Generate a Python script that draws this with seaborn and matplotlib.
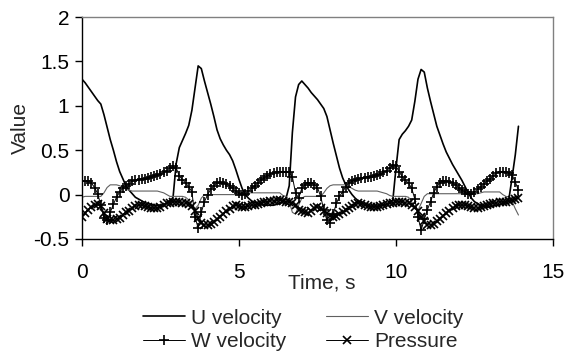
import numpy as np
import pandas as pd
import matplotlib
matplotlib.use("Agg")
import matplotlib.pyplot as plt
from matplotlib.ticker import FuncFormatter
import seaborn as sns

# Samples every 0.1 s
sample_step = 0.1

u_velocity = [
    1.30, 1.26, 1.21, 1.16, 1.11, 1.06, 1.02, 0.90, 0.76, 0.62,
    0.50, 0.37, 0.26, 0.18, 0.10, 0.05, 0.01, -0.03, -0.05, -0.07,
    -0.09, -0.10, -0.11, -0.12, -0.12, -0.12, -0.11, -0.10, -0.08, -0.03,
    0.35, 0.53, 0.61, 0.69, 0.78, 0.95, 1.20, 1.45, 1.42, 1.28,
    1.15, 1.02, 0.88, 0.73, 0.63, 0.56, 0.50, 0.45, 0.38, 0.28,
    0.17, 0.07, 0.00, -0.04, -0.07, -0.09, -0.10, -0.11, -0.12, -0.12,
    -0.12, -0.12, -0.11, -0.10, -0.08, -0.04, 0.10, 0.70, 1.10, 1.24,
    1.28, 1.24, 1.20, 1.15, 1.11, 1.07, 1.02, 0.97, 0.88, 0.73,
    0.58, 0.44, 0.30, 0.19, 0.11, 0.05, 0.00, -0.04, -0.07, -0.09,
    -0.11, -0.12, -0.13, -0.13, -0.13, -0.12, -0.12, -0.11, -0.09, -0.06,
    0.30, 0.62, 0.68, 0.72, 0.77, 0.84, 1.05, 1.30, 1.41, 1.38,
    1.20, 1.05, 0.91, 0.77, 0.67, 0.57, 0.48, 0.41, 0.34, 0.28,
    0.22, 0.16, 0.09, 0.02, -0.04, -0.08, -0.10, -0.12, -0.13, -0.14,
    -0.14, -0.13, -0.12, -0.11, -0.10, -0.08, -0.04, 0.20, 0.45, 0.77,
]

v_velocity = [
    -0.03, -0.02, -0.02, -0.02, -0.02, -0.02, -0.02, 0.02, 0.08, 0.11,
    0.11, 0.11, 0.10, 0.08, 0.06, 0.05, 0.04, 0.04, 0.04, 0.04,
    0.04, 0.04, 0.04, 0.04, 0.04, 0.03, 0.02, 0.00, -0.02, -0.02,
    -0.02, -0.02, -0.02, -0.03, -0.06, -0.12, -0.16, -0.12, -0.04, 0.00,
    0.00, 0.00, 0.00, 0.00, 0.00, 0.00, 0.00, 0.00, 0.00, 0.00,
    0.00, 0.00, 0.01, 0.02, 0.02, 0.02, 0.02, 0.02, 0.02, 0.02,
    0.02, 0.02, 0.02, 0.02, -0.01, -0.02, -0.08, -0.20, -0.22, -0.12,
    -0.04, -0.02, -0.02, -0.02, -0.02, -0.02, -0.02, 0.02, 0.07, 0.10,
    0.11, 0.11, 0.11, 0.11, 0.11, 0.09, 0.07, 0.05, 0.04, 0.04,
    0.04, 0.04, 0.04, 0.04, 0.04, 0.03, 0.02, 0.01, -0.01, -0.02,
    -0.02, -0.02, -0.02, -0.02, -0.03, -0.08, -0.16, -0.18, -0.10, -0.02,
    0.01, 0.01, 0.01, 0.01, 0.01, 0.01, 0.01, 0.01, 0.01, 0.01,
    0.01, 0.01, 0.01, 0.01, 0.01, 0.01, 0.01, 0.02, 0.03, 0.03,
    0.03, 0.03, 0.03, 0.03, 0.00, -0.02, -0.03, -0.08, -0.16, -0.23,
]

w_velocity = [
    0.15, 0.15, 0.15, 0.13, 0.08, 0.01, -0.12, -0.26, -0.29, -0.20,
    -0.11, -0.03, 0.03, 0.07, 0.10, 0.12, 0.15, 0.16, 0.17, 0.18,
    0.18, 0.19, 0.20, 0.21, 0.22, 0.23, 0.25, 0.27, 0.30, 0.32,
    0.30, 0.21, 0.17, 0.13, 0.09, 0.03, -0.25, -0.38, -0.20, -0.08,
    0.00, 0.06, 0.10, 0.13, 0.14, 0.13, 0.12, 0.10, 0.07, 0.04,
    0.02, 0.00, 0.01, 0.04, 0.07, 0.10, 0.13, 0.16, 0.19, 0.21,
    0.23, 0.24, 0.25, 0.26, 0.26, 0.26, 0.25, 0.20, 0.02, -0.04,
    0.07, 0.11, 0.13, 0.13, 0.11, 0.08, -0.02, -0.17, -0.29, -0.32,
    -0.22, -0.10, -0.02, 0.03, 0.09, 0.13, 0.15, 0.17, 0.18, 0.19,
    0.19, 0.20, 0.20, 0.21, 0.22, 0.23, 0.25, 0.27, 0.30, 0.33,
    0.32, 0.26, 0.20, 0.16, 0.13, 0.07, -0.05, -0.25, -0.40, -0.28,
    -0.17, -0.08, 0.02, 0.09, 0.13, 0.15, 0.15, 0.14, 0.13, 0.11,
    0.08, 0.05, 0.03, 0.01, 0.01, 0.03, 0.06, 0.09, 0.12, 0.15,
    0.18, 0.21, 0.24, 0.26, 0.26, 0.25, 0.24, 0.22, 0.14, 0.05,
]

pressure = [
    -0.25, -0.21, -0.17, -0.14, -0.12, -0.11, -0.13, -0.21, -0.27, -0.29,
    -0.29, -0.28, -0.26, -0.23, -0.20, -0.18, -0.15, -0.13, -0.12, -0.12,
    -0.13, -0.14, -0.15, -0.15, -0.15, -0.14, -0.12, -0.10, -0.09, -0.08,
    -0.08, -0.08, -0.09, -0.10, -0.11, -0.13, -0.18, -0.26, -0.32, -0.34,
    -0.34, -0.33, -0.31, -0.28, -0.25, -0.22, -0.19, -0.16, -0.13, -0.12,
    -0.13, -0.14, -0.14, -0.13, -0.12, -0.12, -0.11, -0.10, -0.08, -0.08,
    -0.07, -0.07, -0.06, -0.06, -0.07, -0.08, -0.08, -0.10, -0.12, -0.17,
    -0.19, -0.20, -0.21, -0.18, -0.15, -0.14, -0.15, -0.18, -0.21, -0.24,
    -0.25, -0.24, -0.22, -0.20, -0.17, -0.15, -0.13, -0.11, -0.10, -0.11,
    -0.12, -0.13, -0.14, -0.14, -0.14, -0.13, -0.12, -0.11, -0.10, -0.09,
    -0.08, -0.08, -0.08, -0.09, -0.10, -0.12, -0.14, -0.19, -0.25, -0.30,
    -0.34, -0.34, -0.33, -0.30, -0.27, -0.24, -0.21, -0.18, -0.15, -0.13,
    -0.12, -0.12, -0.12, -0.13, -0.14, -0.15, -0.15, -0.14, -0.13, -0.12,
    -0.11, -0.10, -0.09, -0.08, -0.08, -0.08, -0.07, -0.06, -0.05, -0.04,
]

series_names = ["U velocity", "V velocity", "W velocity", "Pressure"]
x_ticks = [0, 5, 10, 15]
y_ticks = [-0.5, 0, 0.5, 1, 1.5, 2]

time = np.arange(len(u_velocity)) * sample_step
df = pd.DataFrame({
    "Time": time,
    "U velocity": u_velocity,
    "V velocity": v_velocity,
    "W velocity": w_velocity,
    "Pressure": pressure,
})

sns.set_style("ticks")
plt.rcParams["font.family"] = ["Liberation Sans", "DejaVu Sans"]
plt.rcParams["axes.unicode_minus"] = False

fig = plt.figure(figsize=(5.67, 3.56), dpi=100)
ax = fig.add_axes([0.1446, 0.3287, 0.8307, 0.6233])

# line styles per series
styles = {
    "U velocity": dict(color="black", linewidth=1.2),
    "V velocity": dict(color="#606060", linewidth=0.8),
    "W velocity": dict(color="black", linewidth=0.7, marker="+", markersize=7,
                       markeredgecolor="black", markeredgewidth=1.2),
    "Pressure": dict(color="black", linewidth=0.7, marker="x", markersize=5.5,
                     markeredgecolor="black", markeredgewidth=1.2),
}

for name in series_names:
    sns.lineplot(data=df, x="Time", y=name, ax=ax, label=name, **styles[name])

ax.set_xlim(0, 15)
ax.set_ylim(-0.5, 2)
ax.set_xticks(x_ticks)
ax.set_yticks(y_ticks)
ax.yaxis.set_major_formatter(FuncFormatter(lambda v, p: f"{v:g}"))

for side in ["left", "bottom"]:
    ax.spines[side].set_color("black")
    ax.spines[side].set_linewidth(1.0)
for side in ["top", "right"]:
    ax.spines[side].set_visible(True)
    ax.spines[side].set_color("#808080")
    ax.spines[side].set_linewidth(1.0)

ax.tick_params(axis="both", direction="out", length=5, width=1, color="black",
               labelsize=15, labelcolor="black")
ax.tick_params(axis="x", pad=12)
ax.tick_params(axis="y", pad=4)

ax.set_xlabel("Time, s", fontsize=15)
ax.xaxis.set_label_coords(0.51, -0.2)
ax.xaxis.label.set_va("center")
ax.set_ylabel("Value", fontsize=15)
ax.yaxis.set_label_coords(-0.13, 0.5)
ax.yaxis.label.set_va("center")

handles, labels = ax.get_legend_handles_labels()
lookup = dict(zip(labels, handles))
order = ["U velocity", "W velocity", "V velocity", "Pressure"]
ax.legend([lookup[k] for k in order], order, loc="center",
          bbox_to_anchor=(0.535, 0.073), bbox_transform=fig.transFigure,
          ncol=2, frameon=False, fontsize=15, handlelength=2.0,
          handletextpad=0.3, columnspacing=1.9, labelspacing=0.22,
          numpoints=1, borderpad=0)

fig.savefig("out.png", dpi=100)
plt.close(fig)
